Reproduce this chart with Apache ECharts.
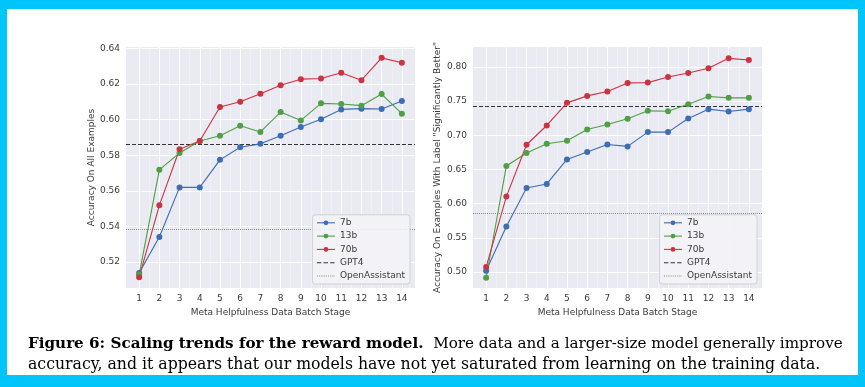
<!DOCTYPE html>
<html>
<head>
<meta charset="utf-8">
<script src="https://cdn.jsdelivr.net/npm/echarts@6/dist/echarts.min.js"></script>
<style>
html,body{margin:0;padding:0;background:#00C5FB;}
#c{width:865px;height:387px;}
</style>
</head>
<body>
<div id="c"></div>
<script>
// ---------- data ----------
const stages = [1,2,3,4,5,6,7,8,9,10,11,12,13,14];
const leftTicksY = [0.52,0.54,0.56,0.58,0.60,0.62,0.64];
const rightTicksY = [0.50,0.55,0.60,0.65,0.70,0.75,0.80];

const all7b  = [0.5138,0.534,0.5619,0.5619,0.5774,0.5845,0.5864,0.591,0.5959,0.6002,0.6058,0.6062,0.606,0.6105];
const all13b = [0.5128,0.5718,0.5813,0.588,0.591,0.5966,0.5931,0.6043,0.5996,0.6092,0.6088,0.6079,0.6144,0.6034];
const all70b = [0.5114,0.5518,0.5834,0.588,0.6071,0.6101,0.6146,0.6194,0.6228,0.6232,0.6264,0.6222,0.6348,0.632];
const allGPT4 = 0.5862;
const allOA = 0.5381;

const sig7b  = [0.502,0.5666,0.623,0.6289,0.6648,0.6755,0.6867,0.6838,0.7047,0.7047,0.7246,0.7383,0.7348,0.7383];
const sig13b = [0.4917,0.6551,0.6741,0.6877,0.6921,0.7086,0.7159,0.7242,0.7358,0.7353,0.7455,0.7567,0.7548,0.7548];
const sig70b = [0.5073,0.6104,0.6862,0.7144,0.7475,0.7577,0.764,0.7767,0.7771,0.7854,0.7912,0.7981,0.8126,0.8102];
const sigGPT4 = 0.7427;
const sigOA = 0.586;

const seriesNames = ['7b','13b','70b','GPT4','OpenAssistant'];
const colors = {'7b':'#3d6db3','13b':'#4f9f45','70b':'#cc3340'};

// ---------- build ----------
const chart = echarts.init(document.getElementById('c'), null, {renderer:'canvas'});
const FONT = 'DejaVu Sans';
const pairs = vals => stages.map((s,i)=>[s, vals[i]]);

function axesFor(gi, yMin, yMax, yTicks){
  return {
    x: {
      type:'value', gridIndex:gi, min:0.35, max:14.65,
      axisLine:{show:false}, axisTick:{show:false, customValues:stages},
      splitLine:{show:false},
      axisLabel:{customValues:stages, color:'#3a3a3a', fontFamily:FONT, fontSize:9, margin:6},
      name:'Meta Helpfulness Data Batch Stage', nameLocation:'middle', nameGap:19,
      nameTextStyle:{color:'#3a3a3a', fontFamily:FONT, fontSize:9}
    },
    y: {
      type:'value', gridIndex:gi, min:yMin, max:yMax,
      axisLine:{show:false}, axisTick:{show:false, customValues:yTicks},
      splitLine:{show:false},
      axisLabel:{customValues:yTicks, formatter:v=>v.toFixed(2), color:'#3a3a3a', fontFamily:FONT, fontSize:9, margin:6}
    }
  };
}
const A0 = axesFor(0, 0.5053, 0.6409, leftTicksY);
const A1 = axesFor(1, 0.4767, 0.8292, rightTicksY);
A0.y.name = 'Accuracy On All Examples';
A1.y.name = 'Accuracy On Examples With Label "Significantly Better"';
[A0.y, A1.y].forEach(a=>{a.nameLocation='middle'; a.nameTextStyle={color:'#3a3a3a', fontFamily:FONT, fontSize:9};});
A0.y.nameGap = 29; A1.y.nameGap = 31;

function gridSeries(gi, yTicks){
  const xs = stages.map(v=>({xAxis:v}));
  const halves = stages.slice(0,-1).map(v=>({xAxis:v+0.5}));
  const ys = yTicks.map(v=>({yAxis:v}));
  return [{
    type:'line', name:'_grid'+gi, xAxisIndex:gi, yAxisIndex:gi, data:[], z:1, silent:true,
    markLine:{z:1, precision:6, silent:true, symbol:'none', label:{show:false}, animation:false,
      lineStyle:{color:'#ffffff', width:1, type:'solid'},
      emphasis:{disabled:true},
      data: xs.concat(ys)}
  },{
    type:'line', name:'_minor'+gi, xAxisIndex:gi, yAxisIndex:gi, data:[], z:1, silent:true,
    markLine:{z:1, precision:6, silent:true, symbol:'none', label:{show:false}, animation:false,
      lineStyle:{color:'rgba(255,255,255,0.45)', width:0.7, type:'solid'},
      emphasis:{disabled:true},
      data: halves}
  }];
}

function dataSeries(gi, v7, v13, v70, gpt, oa){
  const mk = (name, vals) => ({
    type:'line', name, xAxisIndex:gi, yAxisIndex:gi, data:pairs(vals),
    symbol:'circle', symbolSize:6, showSymbol:true, z:3,
    lineStyle:{color:colors[name], width:1.1},
    itemStyle:{color:colors[name]},
    emphasis:{disabled:true}, animation:false
  });
  const ref = (name, val, type, color) => ({
    type:'line', name, xAxisIndex:gi, yAxisIndex:gi, data:[], symbol:'none', z:2,
    lineStyle:{color, width:1, type}, itemStyle:{color, opacity:0},
    markLine:{z:2, precision:6, silent:true, symbol:'none', label:{show:false}, animation:false,
      lineStyle:{color, width:1, type, opacity:1}, emphasis:{disabled:true},
      data:[{yAxis:val}]},
    animation:false
  });
  return [mk('7b',v7), mk('13b',v13), mk('70b',v70),
          ref('GPT4', gpt, 'dashed', '#333333'),
          ref('OpenAssistant', oa, 'dotted', '#8a8a8a')];
}

function legendAt(right){
  return {
    data:seriesNames, orient:'vertical', right, bottom:103,
    itemWidth:18, itemHeight:6, itemGap:3.3,
    padding:[3,5,3,4],
    lineStyle:{width:1.1},
    backgroundColor:'rgba(242,242,247,0.88)', borderColor:'#d0d0d8', borderWidth:1, borderRadius:3,
    textStyle:{color:'#3a3a3a', fontFamily:FONT, fontSize:9, lineHeight:10},
    selectedMode:false
  };
}

// caption sizing
const capL1b = 'Figure 6: Scaling trends for the reward model.';
const capL1n = '  More data and a larger-size model generally improve';
const capL2 = 'accuracy, and it appears that our models have not yet saturated from learning on the training data.';
const CAPFONT = 'DejaVu Serif';
const cv = document.createElement('canvas').getContext('2d');
function w1(fs){
  cv.font = 'bold '+fs+'px "'+CAPFONT+'"'; const a = cv.measureText(capL1b).width;
  cv.font = fs+'px "'+CAPFONT+'"'; const b = cv.measureText(capL1n).width;
  return a+b;
}
function w2(fs){ cv.font = fs+'px "'+CAPFONT+'"'; return cv.measureText(capL2).width; }
const capFs = 15 * 815 / w1(15);
const capFs2 = 15 * 793 / w2(15);

chart.setOption({
  animation:false,
  backgroundColor:'#00C5FB',
  grid:[
    {left:126, top:47, width:289, height:241, show:true, backgroundColor:'#EAEAF2', borderWidth:0},
    {left:473, top:47, width:289, height:241, show:true, backgroundColor:'#EAEAF2', borderWidth:0}
  ],
  xAxis:[A0.x, A1.x],
  yAxis:[A0.y, A1.y],
  legend:[legendAt(455), legendAt(108)],
  graphic:[
    {type:'rect', z:-10, shape:{x:7, y:9, width:851, height:366}, style:{fill:'#ffffff'}, silent:true},
    {type:'text', left:28, top:337, z:10, silent:true,
      style:{text:'{b|'+capL1b+'}{n|'+capL1n+'}', rich:{
        b:{fontFamily:CAPFONT, fontWeight:'bold', fontSize:capFs, fill:'#000'},
        n:{fontFamily:CAPFONT, fontSize:capFs, fill:'#000'}}}},
    {type:'text', left:28, top:357, z:10, silent:true,
      style:{text:capL2, fontFamily:CAPFONT, fontSize:capFs2, fill:'#000'}}
  ],
  series: [].concat(
    gridSeries(0, leftTicksY), gridSeries(1, rightTicksY),
    dataSeries(0, all7b, all13b, all70b, allGPT4, allOA),
    dataSeries(1, sig7b, sig13b, sig70b, sigGPT4, sigOA)
  )
});
</script>
</body>
</html>
